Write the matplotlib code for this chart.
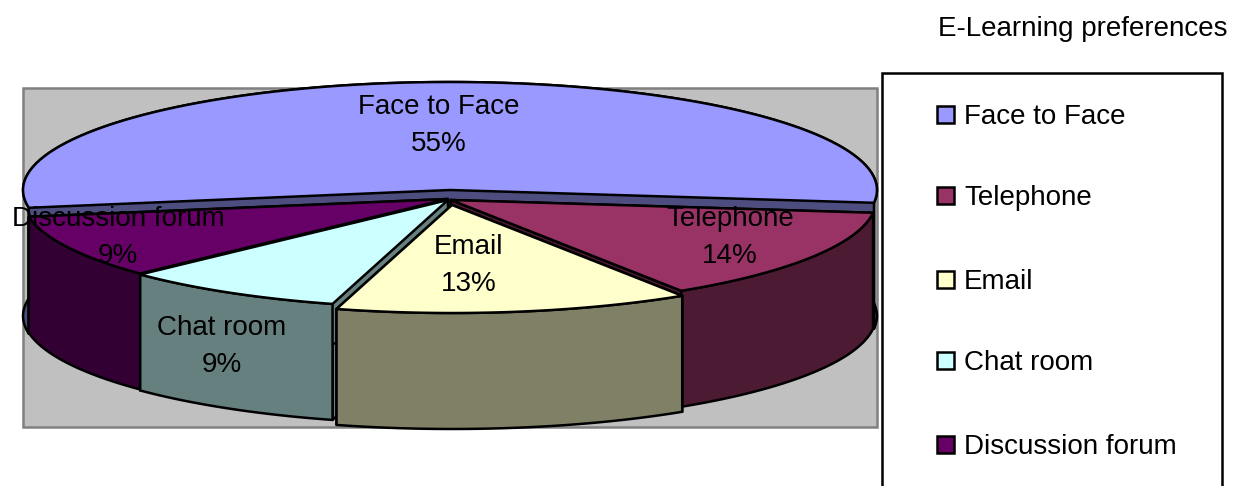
import matplotlib
matplotlib.use('Agg')
import matplotlib.pyplot as plt
import numpy as np
from matplotlib.patches import Polygon, Rectangle

plt.rcParams['font.family'] = ['Liberation Sans', 'DejaVu Sans']

labels = ['Face to Face', 'Telephone', 'Email', 'Chat room', 'Discussion forum']
values = [54.52, 14.0, 13.49, 8.51, 9.48]
top_colors = ['#9999FF', '#993366', '#FFFFCC', '#CCFFFF', '#660066']
side_colors = ['#4D4D80', '#4D1A33', '#808066', '#668080', '#330033']

# centre of each slice in pixels (exploded pie)
centers = [(450, 190), (451, 200), (452, 205), (448, 200), (448, 199)]
rx, ry, depth = 425, 108, 116
start = -6.8
draw_order = [0, 4, 1, 3, 2]

label_pos = [(439, 105), (730, 217), (469, 245), (222, 326), (118, 217)]
legend_y = [115, 196, 280, 361, 445]

fig = plt.figure(figsize=(12.37, 4.86), dpi=100)
ax = fig.add_axes([0, 0, 1, 1])
ax.set_xlim(0, 1237)
ax.set_ylim(486, 0)
ax.axis('off')

ax.add_patch(Rectangle((23, 88), 854, 339, fc='#C0C0C0', ec='#808080', lw=1.8))

# slices run clockwise from the start, first one sits over the back of the pie
ends = start + values[0] * 3.6 - np.cumsum(values) * 3.6
starts = np.r_[start + values[0] * 3.6, ends[:-1]]

for i in draw_order:
    cx, cy = centers[i]
    r = rx + 2 if i == 0 else rx
    d = depth + 10 if i == 0 else depth
    t = np.radians(np.linspace(starts[i], ends[i], 100))
    x = cx + r * np.cos(t)
    y = cy - ry * np.sin(t)
    # radial cut sides
    for k in (0, -1):
        ax.add_patch(Polygon([(cx, cy), (x[k], y[k]), (x[k], y[k] + d), (cx, cy + d)],
                             fc=side_colors[i], ec='black', lw=1.8, joinstyle='round'))
    # outer wall
    wall = np.r_[np.c_[x, y], np.c_[x, y + d][::-1]]
    ax.add_patch(Polygon(wall, fc=side_colors[i], ec='black', lw=1.8, joinstyle='round'))
    # top
    top = np.r_[[(cx, cy)], np.c_[x, y]]
    ax.add_patch(Polygon(top, fc=top_colors[i], ec='black', lw=1.8, joinstyle='round'))

for name, v, (lx, ly) in zip(labels, values, label_pos):
    ax.text(lx, ly + 2, name, ha='center', va='center', fontsize=20, color='black')
    ax.text(lx, ly + 39, '%.0f%%' % v, ha='center', va='center', fontsize=20, color='black')

# legend
ax.add_patch(Rectangle((882, 73), 340, 440, fc='white', ec='black', lw=1.8))
for name, c, ly in zip(labels, top_colors, legend_y):
    ax.add_patch(Rectangle((937, ly - 9), 17, 17, fc=c, ec='black', lw=1.8))
    ax.text(964, ly + 2, name, ha='left', va='center', fontsize=20, color='black')

ax.text(1228, 29, 'E-Learning preferences', ha='right', va='center', fontsize=20, color='black')

fig.savefig('out.png', dpi=100)
